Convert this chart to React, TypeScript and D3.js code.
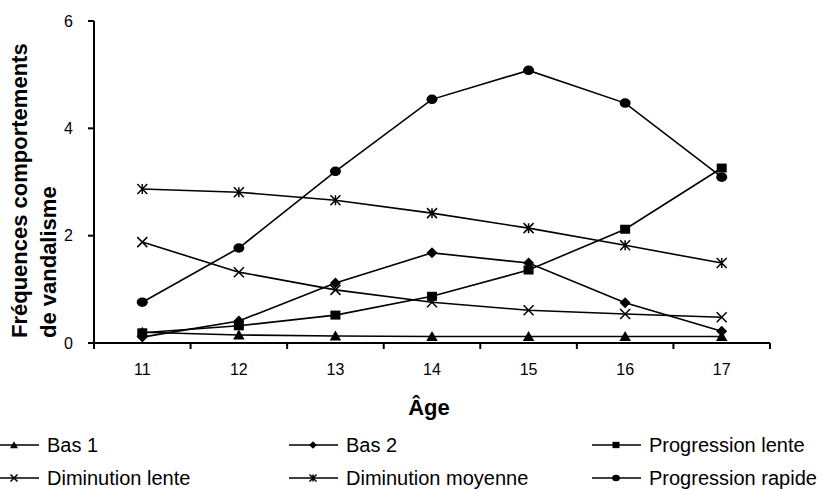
import React from "react";
import * as d3 from "d3";

const ages = ["11", "12", "13", "14", "15", "16", "17"];
const seriesNames = ["Bas 1", "Bas 2", "Progression lente", "Diminution lente", "Diminution moyenne", "Progression rapide"];
const bas1 = [0.2, 0.15, 0.13, 0.12, 0.12, 0.12, 0.12];
const bas2 = [0.11, 0.41, 1.12, 1.68, 1.49, 0.75, 0.22];
const progLente = [0.19, 0.32, 0.52, 0.87, 1.36, 2.12, 3.26];
const dimLente = [1.88, 1.32, 0.99, 0.76, 0.61, 0.54, 0.48];
const dimMoyenne = [2.87, 2.81, 2.66, 2.42, 2.14, 1.82, 1.49];
const progRapide = [0.76, 1.77, 3.2, 4.54, 5.08, 4.47, 3.09];
const markers = ["triangle", "diamond", "square", "x", "asterisk", "circle"];
const yTicks = [0, 2, 4, 6];

const allSeries = [bas1, bas2, progLente, dimLente, dimMoyenne, progRapide];

const W = 823, H = 490;
const left = 94, right = 770, top = 21, bottom = 343;

function Marker({ type, x, y, s }: { type: string; x: number; y: number; s: number }) {
  const h = s / 2;
  if (type === "circle") return <ellipse cx={x} cy={y} rx={h * 1.1} ry={h * 0.95} fill="#000" />;
  if (type === "square") return <rect x={x - h} y={y - h * 0.9} width={s} height={s * 0.9} fill="#000" />;
  if (type === "diamond")
    return <path d={`M${x},${y - h * 1.1}L${x + h * 1.1},${y}L${x},${y + h * 1.1}L${x - h * 1.1},${y}Z`} fill="#000" />;
  if (type === "triangle")
    return <path d={`M${x},${y - h * 1.1}L${x + h * 1.15},${y + h * 0.9}L${x - h * 1.15},${y + h * 0.9}Z`} fill="#000" />;
  if (type === "x")
    return <path d={`M${x - h},${y - h}L${x + h},${y + h}M${x - h},${y + h}L${x + h},${y - h}`} stroke="#000" strokeWidth={1.5} fill="none" />;
  if (type === "asterisk")
    return (
      <path
        d={`M${x - h},${y - h}L${x + h},${y + h}M${x - h},${y + h}L${x + h},${y - h}M${x},${y - h}L${x},${y + h}`}
        stroke="#000"
        strokeWidth={1.5}
        fill="none"
      />
    );
  return null;
}

export default function App() {
  const x = d3.scaleBand<string>().domain(ages).range([left, right]);
  const y = d3.scaleLinear().domain([0, 6]).range([bottom, top]);
  const line = d3
    .line<number>()
    .x((_, i) => (x(ages[i]) as number) + x.bandwidth() / 2)
    .y((d) => y(d));
  const font = "'Liberation Sans', Arial, sans-serif";
  const boundaries = ages.map((a) => x(a) as number).concat([right]);

  const legendCols = [-10, 289, 592];
  const legendRows = [445, 478];

  return (
    <svg width={W} height={H} style={{ position: "absolute", left: 0, top: 0, fontFamily: font }}>
      <rect width={W} height={H} fill="#fff" />
      {/* axes */}
      <line x1={left} y1={top} x2={left} y2={bottom} stroke="#000" strokeWidth={2} />
      <line x1={left} y1={bottom} x2={right} y2={bottom} stroke="#000" strokeWidth={2} />
      {yTicks.map((t) => (
        <g key={t}>
          <line x1={left - 6} x2={left} y1={y(t)} y2={y(t)} stroke="#000" strokeWidth={2} />
          <text x={left - 21} y={y(t)} dy="0.35em" textAnchor="end" fontSize={16} fill="#000">
            {t}
          </text>
        </g>
      ))}
      {boundaries.map((b, i) => (
        <line key={i} x1={b} x2={b} y1={bottom} y2={bottom + 6} stroke="#000" strokeWidth={2} />
      ))}
      {ages.map((a) => (
        <text key={a} x={(x(a) as number) + x.bandwidth() / 2} y={375} textAnchor="middle" fontSize={16} fill="#000">
          {a}
        </text>
      ))}
      <text x={429} y={415} textAnchor="middle" fontSize={22} fontWeight="bold" fill="#000">
        Âge
      </text>
      <text transform={`translate(27,338) rotate(-90)`} textAnchor="start" fontSize={22} fontWeight="bold" fill="#000">
        <tspan x={0} dy={0}>Fréquences comportements</tspan>
        <tspan x={0} dy={29}>de vandalisme</tspan>
      </text>
      {/* series */}
      {allSeries.map((s, si) => (
        <g key={si}>
          <path d={line(s) || ""} fill="none" stroke="#000" strokeWidth={1.6} />
          {s.map((v, i) => (
            <Marker key={i} type={markers[si]} x={(x(ages[i]) as number) + x.bandwidth() / 2} y={y(v)} s={10} />
          ))}
        </g>
      ))}
      {/* legend */}
      {seriesNames.map((name, i) => {
        const cx = legendCols[i % 3];
        const cy = legendRows[Math.floor(i / 3)];
        return (
          <g key={name}>
            <line x1={cx} x2={cx + 49} y1={cy} y2={cy} stroke="#000" strokeWidth={1.6} />
            <Marker type={markers[i]} x={cx + 24} y={cy} s={7} />
            <text x={cx + 57} y={cy} dy="0.35em" fontSize={20} fill="#000">
              {name}
            </text>
          </g>
        );
      })}
    </svg>
  );
}
